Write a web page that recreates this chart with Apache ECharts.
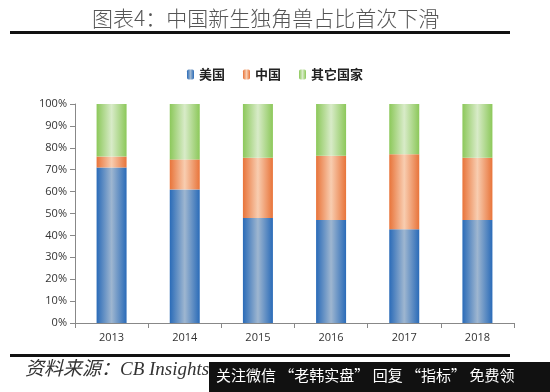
<!DOCTYPE html>
<html><head><meta charset="utf-8">
<script src="https://cdn.jsdelivr.net/npm/echarts@6/dist/echarts.min.js"></script>
<style>html,body{margin:0;padding:0;background:#fff}#c{width:550px;height:392px}</style>
</head><body><div id="c"></div>
<script>
const years = ['2013','2014','2015','2016','2017','2018'];
const usShare = [71, 61, 48, 47, 42.8, 47];
const chinaShare = [5, 13.7, 27.5, 29.4, 34.2, 28.5];
const otherShare = [24, 25.3, 24.5, 23.6, 23, 24.5];
const yTicks = ['0%','10%','20%','30%','40%','50%','60%','70%','80%','90%','100%'];

function grad(edge, mid){
  return new echarts.graphic.LinearGradient(0,0,1,0,[
    {offset:0,color:edge},{offset:0.5,color:mid},{offset:1,color:edge}]);
}
const chart = echarts.init(document.getElementById('c'));
const cjk = '"Noto Sans CJK SC", sans-serif';
chart.setOption({
  animation:false,
  backgroundColor:'#fff',
  title:{text:'图表4：中国新生独角兽占比首次下滑',left:87,top:3,
    textStyle:{fontFamily:cjk,fontSize:21,fontWeight:300,color:'#555'}},
  legend:{top:63,left:'center',itemWidth:7,itemHeight:10,itemGap:18,
    textStyle:{fontFamily:cjk,fontSize:13,fontWeight:'bold',color:'#222'},
    data:['美国','中国','其它国家']},
  grid:{left:75,right:36,top:104,bottom:69},
  xAxis:{type:'category',data:years,
    axisLine:{lineStyle:{color:'#888'}},
    axisTick:{show:true,alignWithLabel:false,length:5,lineStyle:{color:'#888'}},
    axisLabel:{color:'#333',fontSize:11,fontFamily:'"Open Sans", sans-serif',margin:9}},
  yAxis:{type:'value',min:0,max:100,interval:10,
    axisLine:{show:true,lineStyle:{color:'#888'}},
    axisTick:{show:true,length:5,lineStyle:{color:'#888'}},
    splitLine:{show:false},
    axisLabel:{color:'#333',fontSize:11,fontFamily:'"Open Sans", sans-serif',margin:8,
      formatter:function(v){return yTicks[Math.round(v/10)];}}},
  series:[
    {name:'美国',type:'bar',stack:'s',barWidth:'41%',data:usShare,
      itemStyle:{color:grad('#2A6BB8','#9EB6D0')}},
    {name:'中国',type:'bar',stack:'s',data:chinaShare,
      itemStyle:{color:grad('#E8743A','#F8CDB0')}},
    {name:'其它国家',type:'bar',stack:'s',data:otherShare,
      itemStyle:{color:grad('#8CC85A','#D8EBC8')}}
  ],
  graphic:[
    {type:'rect',shape:{x:10,y:31,width:500,height:3},style:{fill:'#111'}},
    {type:'rect',shape:{x:10,y:354,width:500,height:3},style:{fill:'#111'}},
    {type:'text',left:25,top:360,style:{text:'资料来源：CB Insights',
      font:'italic 19px "Liberation Serif", "Noto Sans CJK SC", serif',fill:'#333'}},
    {type:'rect',z:100,shape:{x:209,y:362,width:341,height:30},style:{fill:'#111'}},
    {type:'text',z:101,left:216,top:368,style:{text:'关注微信 “老韩实盘” 回复 “指标” 免费领',
      font:'15px "Noto Sans CJK SC", sans-serif',fill:'#fff'}}
  ]
});
</script></body></html>
